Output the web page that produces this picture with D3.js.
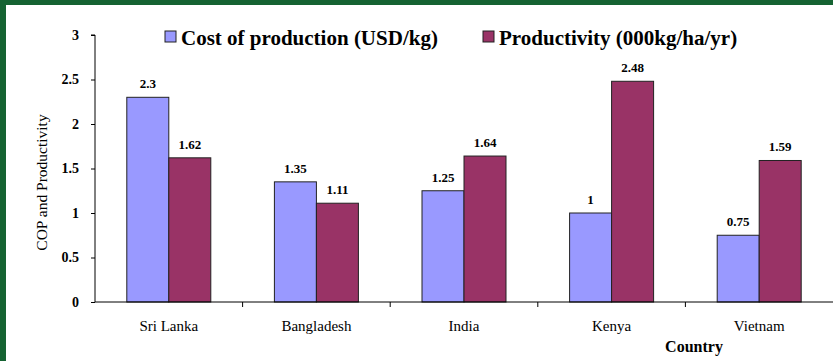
<!DOCTYPE html>
<html>
<head>
<meta charset="utf-8">
<script src="https://cdn.jsdelivr.net/npm/d3@7"></script>
<style>
  html, body { margin: 0; padding: 0; background: #fff; }
  svg { display: block; font-family: "Liberation Serif", "Times New Roman", serif; }
</style>
</head>
<body>
<svg id="chart" width="833" height="361"></svg>
<script>
const COUNTRIES = ['Sri Lanka', 'Bangladesh', 'India', 'Kenya', 'Vietnam'];
const COST = [2.3, 1.35, 1.25, 1, 0.75];
const PRODUCTIVITY = [1.62, 1.11, 1.64, 2.48, 1.59];
const SERIES_NAMES = ['Cost of production (USD/kg)', 'Productivity (000kg/ha/yr)'];
const Y_TICKS = [0, 0.5, 1, 1.5, 2, 2.5, 3];

const COLORS = ['#9999ff', '#993366'];
const GREEN = '#156332';

const svg = d3.select('#chart');
const W = 833, H = 361;
const m = { left: 95, right: 0, top: 35, bottom: 59 };

// green frame (left and top)
svg.append('rect').attr('x', 0).attr('y', 0).attr('width', W).attr('height', 5).attr('fill', GREEN);
svg.append('rect').attr('x', 0).attr('y', 0).attr('width', 6).attr('height', H).attr('fill', GREEN);

const x = d3.scaleBand().domain(COUNTRIES).range([m.left, W - m.right]);
const y = d3.scaleLinear().domain([0, 3]).range([H - m.bottom, m.top]);
const barW = 42;

const series = [COST, PRODUCTIVITY];
const g = svg.append('g');

series.forEach((vals, si) => {
  g.append('g').selectAll('rect').data(vals).join('rect')
    .attr('x', (d, i) => x(COUNTRIES[i]) + x.bandwidth() / 2 - barW + si * barW)
    .attr('y', d => y(d))
    .attr('width', barW)
    .attr('height', d => y(0) - y(d))
    .attr('fill', COLORS[si])
    .attr('stroke', '#222')
    .attr('stroke-width', 1);

  g.append('g').selectAll('text').data(vals).join('text')
    .attr('x', (d, i) => x(COUNTRIES[i]) + x.bandwidth() / 2 - barW / 2 + si * barW)
    .attr('y', d => y(d) - 9)
    .attr('text-anchor', 'middle')
    .attr('font-size', 13)
    .attr('font-weight', 'bold')
    .text(d => d);
});

// y axis
const yAxis = svg.append('g')
  .attr('transform', `translate(${m.left},0)`)
  .call(d3.axisLeft(y).tickValues(Y_TICKS).tickSize(4).tickPadding(12).tickFormat(d => d));
yAxis.selectAll('text').attr('font-size', 14).attr('font-weight', 'bold')
  .attr('font-family', '"Liberation Serif", serif').attr('fill', '#000');
yAxis.select('.domain').attr('stroke', '#000').attr('d', `M-4,${y(3)}H0V${y(0)}`);
yAxis.selectAll('line').attr('stroke', '#000');

// x axis with category boundary ticks
const xAxisG = svg.append('g').attr('transform', `translate(0,${y(0)})`);
xAxisG.append('line').attr('x1', m.left).attr('x2', W).attr('y1', 0).attr('y2', 0).attr('stroke', '#000');
xAxisG.selectAll('line.tk').data(COUNTRIES.slice(1)).join('line')
  .attr('class', 'tk')
  .attr('x1', d => x(d)).attr('x2', d => x(d))
  .attr('y1', 0).attr('y2', 5).attr('stroke', '#000');
xAxisG.selectAll('text').data(COUNTRIES).join('text')
  .attr('x', d => x(d) + x.bandwidth() / 2)
  .attr('y', 29)
  .attr('text-anchor', 'middle')
  .attr('font-size', 15)
  .text(d => d);

// axis titles
svg.append('text')
  .attr('transform', `translate(47,${(y(0) + y(3)) / 2 + 14}) rotate(-90)`)
  .attr('text-anchor', 'middle')
  .attr('font-size', 15.5)
  .text('COP and Productivity');

svg.append('text')
  .attr('x', 694).attr('y', 352)
  .attr('text-anchor', 'middle')
  .attr('font-size', 16)
  .attr('font-weight', 'bold')
  .text('Country');

// legend
const legendX = [165, 483];
SERIES_NAMES.forEach((name, i) => {
  svg.append('rect')
    .attr('x', legendX[i]).attr('y', 31)
    .attr('width', 11).attr('height', 11)
    .attr('fill', COLORS[i]).attr('stroke', '#222');
  svg.append('text')
    .attr('x', legendX[i] + 16).attr('y', 45)
    .attr('font-size', 21)
    .attr('font-weight', 'bold')
    .text(name);
});
</script>
</body>
</html>
